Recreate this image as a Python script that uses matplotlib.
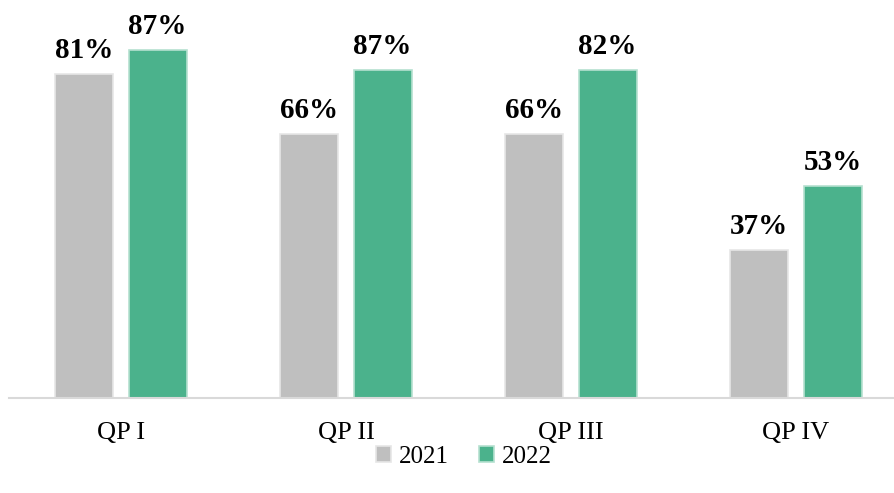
import matplotlib.pyplot as plt
import numpy as np

categories = ["QP I", "QP II", "QP III", "QP IV"]
values2021 = [81, 66, 66, 37]
values2022 = [87, 82, 82, 53]
labels2021 = ["81%", "66%", "66%", "37%"]
labels2022 = ["87%", "87%", "82%", "53%"]

plt.rcParams['font.family'] = ['Liberation Serif', 'DejaVu Serif']

W, H = 894, 493
fig = plt.figure(figsize=(W / 100, H / 100), dpi=100)
# baseline at y=398 px, 4 px per percent
ax = fig.add_axes([8.5 / W, (H - 398) / H, (W - 8.5) / W, 392 / H])

x = np.arange(len(categories))
bw = 0.258
off = 0.163
b1 = ax.bar(x - off, values2021, bw, color="#BFBFBF", edgecolor="#E6E6E6", linewidth=1.2, label="2021")
b2 = ax.bar(x + off, values2022, bw, color="#4BB28C", edgecolor="#B5E0D0", linewidth=1.2, label="2022")

for xi, v, t in zip(x - off, values2021, labels2021):
    ax.text(xi, v + 2.6, t, ha="center", va="bottom", fontsize=21, fontweight="bold")
for xi, v, t in zip(x + off, values2022, labels2022):
    ax.text(xi, v + 2.6, t, ha="center", va="bottom", fontsize=21, fontweight="bold")

ax.set_xlim(-0.5, -0.5 + (W - 8.5) / 225)
ax.set_ylim(0, 98)
ax.set_xticks(x)
ax.set_xticklabels(categories, fontsize=19)
ax.tick_params(axis="x", length=0, pad=17)
ax.set_yticks([])
for s in ["top", "right", "left"]:
    ax.spines[s].set_visible(False)
ax.spines["bottom"].set_color("#D9D9D9")
ax.spines["bottom"].set_linewidth(1.5)

fig.legend(handles=[b1, b2], labels=["2021", "2022"], loc="center", bbox_to_anchor=(464 / W, 1 - 457 / H),
           ncol=2, frameon=False, fontsize=18, handlelength=0.6, handleheight=0.6,
           handletextpad=0.3, columnspacing=1.2)

fig.savefig("out.png", dpi=100)
